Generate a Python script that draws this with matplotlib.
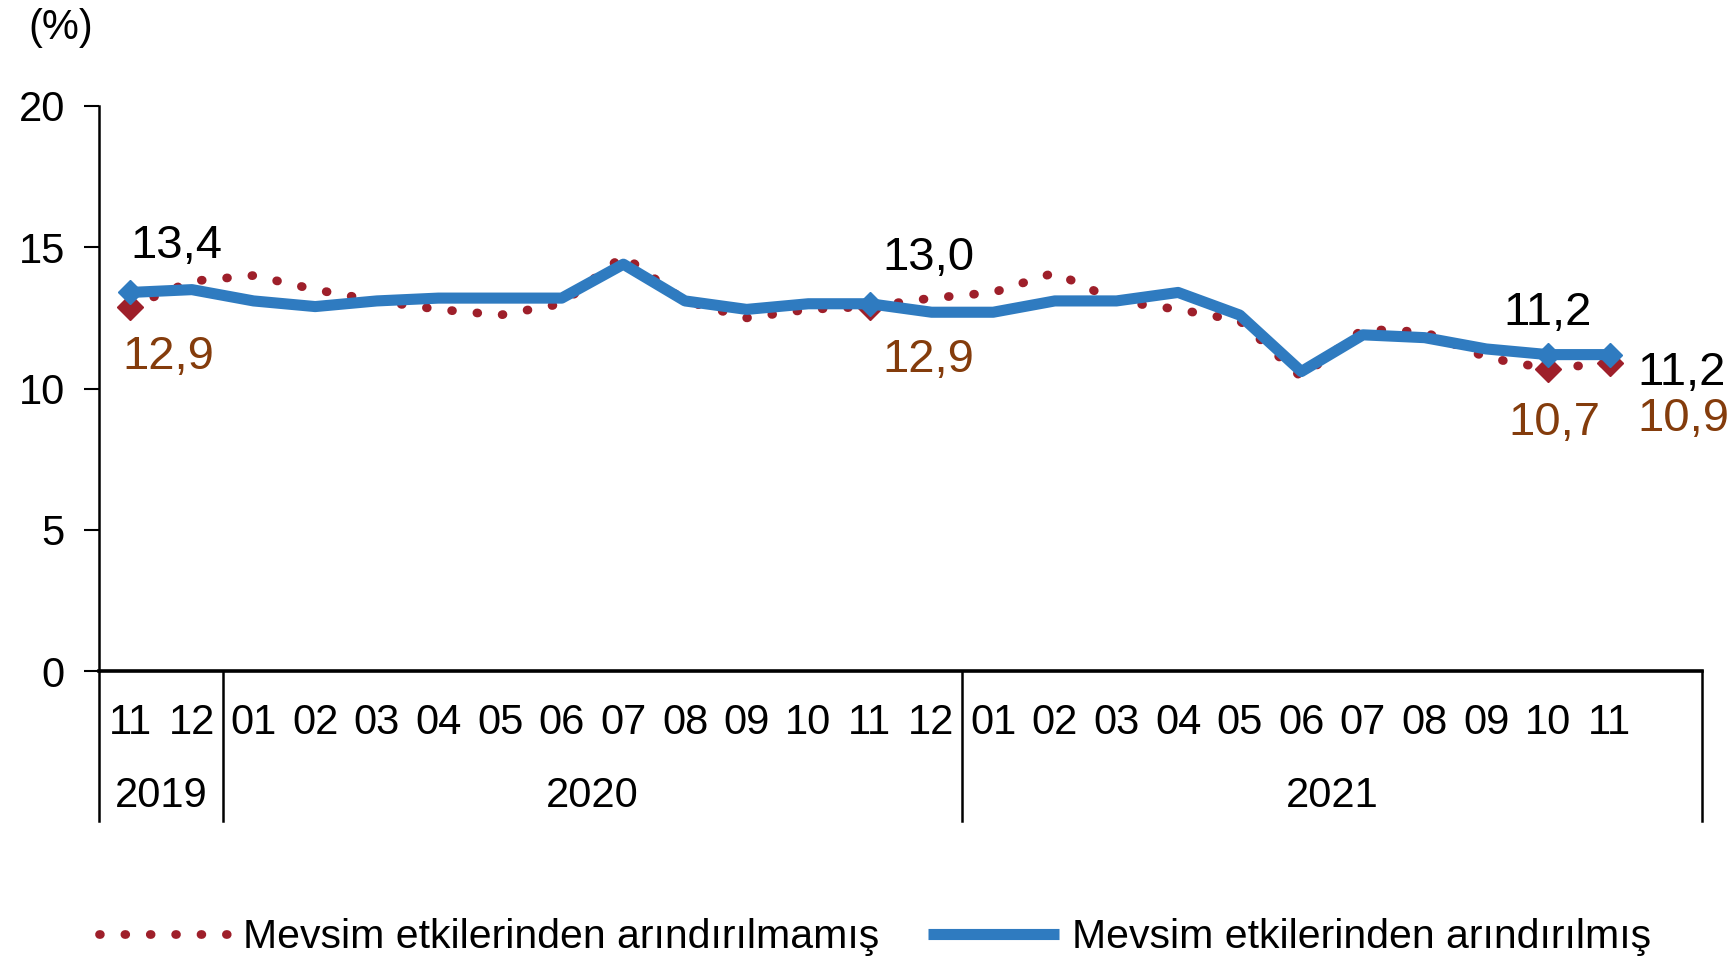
import matplotlib
matplotlib.use('Agg')
import matplotlib.pyplot as plt
import matplotlib.transforms as mtransforms

plt.rcParams['font.family'] = ['Liberation Sans', 'DejaVu Sans']

# Aylar (2019-11 ... 2021-11)
aylar = ['11', '12', '01', '02', '03', '04', '05', '06', '07', '08', '09', '10', '11', '12',
         '01', '02', '03', '04', '05', '06', '07', '08', '09', '10', '11']
yillar = ['2019', '2020', '2021']
yil_sinirlari = [-0.5, 1.5, 13.5, 25.5]

# İşsizlik oranı (%)
arindirilmamis = [12.9, 13.8, 14.0, 13.5, 13.1, 12.8, 12.6, 13.0, 14.7, 13.1, 12.5, 12.8, 12.9,
                  13.2, 13.4, 14.1, 13.1, 12.8, 12.4, 10.4, 12.1, 12.0, 11.1, 10.7, 10.9]
arindirilmis = [13.4, 13.5, 13.1, 12.9, 13.1, 13.2, 13.2, 13.2, 14.4, 13.1, 12.8, 13.0, 13.0,
                12.7, 12.7, 13.1, 13.1, 13.4, 12.6, 10.6, 11.9, 11.8, 11.4, 11.2, 11.2]
etiketli = [0, 12, 23, 24]

kirmizi = '#9E1F2A'
mavi = '#2F7BC0'
kahve = '#843C0C'

fig = plt.figure(figsize=(17.33, 9.6), dpi=100)
ax = fig.add_axes([0.0574, 0.301, 0.9247, 0.5886])

x = list(range(len(aylar)))

# Seriler
l1, = ax.plot(x, arindirilmamis, color=kirmizi, lw=6.3, ls=(0, (0.1, 2.8)),
              dash_capstyle='round', zorder=2, label='Mevsim etkilerinden arındırılmamış')
ax.plot([x[i] for i in etiketli], [arindirilmamis[i] for i in etiketli], 'D',
        color=kirmizi, ms=13, zorder=2.5)
l2, = ax.plot(x, arindirilmis, color=mavi, lw=8, solid_joinstyle='round',
              solid_capstyle='butt', zorder=3, label='Mevsim etkilerinden arındırılmış')
ax.plot([x[i] for i in etiketli], [arindirilmis[i] for i in etiketli], 'D',
        color=mavi, ms=12, zorder=4)

# Veri etiketleri (offset piksel)
ust_ofset = {0: (0, 24, 'left', 'bottom'), 12: (12, 24, 'left', 'bottom'),
             23: (0, 20, 'center', 'bottom'), 24: (28, -18, 'left', 'center')}
alt_ofset = {0: (-8, -50, 'left', 'center'), 12: (12, -53, 'left', 'center'),
             23: (6, -54, 'center', 'center'), 24: (28, -56, 'left', 'center')}
for i in etiketli:
    dx, dy, ha, va = ust_ofset[i]
    ax.annotate(f'{arindirilmis[i]:.1f}'.replace('.', ','), (x[i], arindirilmis[i]),
                xytext=(dx, dy), textcoords='offset pixels', ha=ha, va=va,
                fontsize=34, color='black', zorder=6)
    dx, dy, ha, va = alt_ofset[i]
    ax.annotate(f'{arindirilmamis[i]:.1f}'.replace('.', ','), (x[i], arindirilmamis[i]),
                xytext=(dx, dy), textcoords='offset pixels', ha=ha, va=va,
                fontsize=34, color=kahve, zorder=6)

# Eksenler
ax.set_xlim(-0.5, 25.5)
ax.set_ylim(0, 20)
ax.set_yticks([0, 5, 10, 15, 20])
ax.set_xticks(x)
ax.set_xticklabels(aylar)
ax.tick_params(axis='y', direction='out', length=11, width=1.5, pad=14, labelsize=30)
ax.tick_params(axis='x', length=0, pad=23, labelsize=30)
for s in ['top', 'right']:
    ax.spines[s].set_visible(False)
ax.spines['left'].set_linewidth(1.8)
ax.spines['bottom'].set_linewidth(2.6)

trans = mtransforms.blended_transform_factory(ax.transData, ax.transAxes)
for b in yil_sinirlari:
    ax.plot([b, b], [0, -0.2655], color='black', lw=1.8, transform=trans, clip_on=False)
for k, yil in enumerate(yillar):
    orta = (yil_sinirlari[k] + yil_sinirlari[k + 1]) / 2
    ax.text(orta, -0.222, yil, transform=trans, ha='center', va='center', fontsize=30)

fig.text(61 / 1733, 1 - 28 / 960, '(%)', ha='center', va='center', fontsize=30)

fig.legend(handles=[l1, l2], loc='center', bbox_to_anchor=(0.505, 0.024), ncol=2,
           frameon=False, fontsize=29.5, handlelength=3.2, handletextpad=0.3,
           columnspacing=1.2, borderpad=0)

fig.savefig('out.png', dpi=100)
